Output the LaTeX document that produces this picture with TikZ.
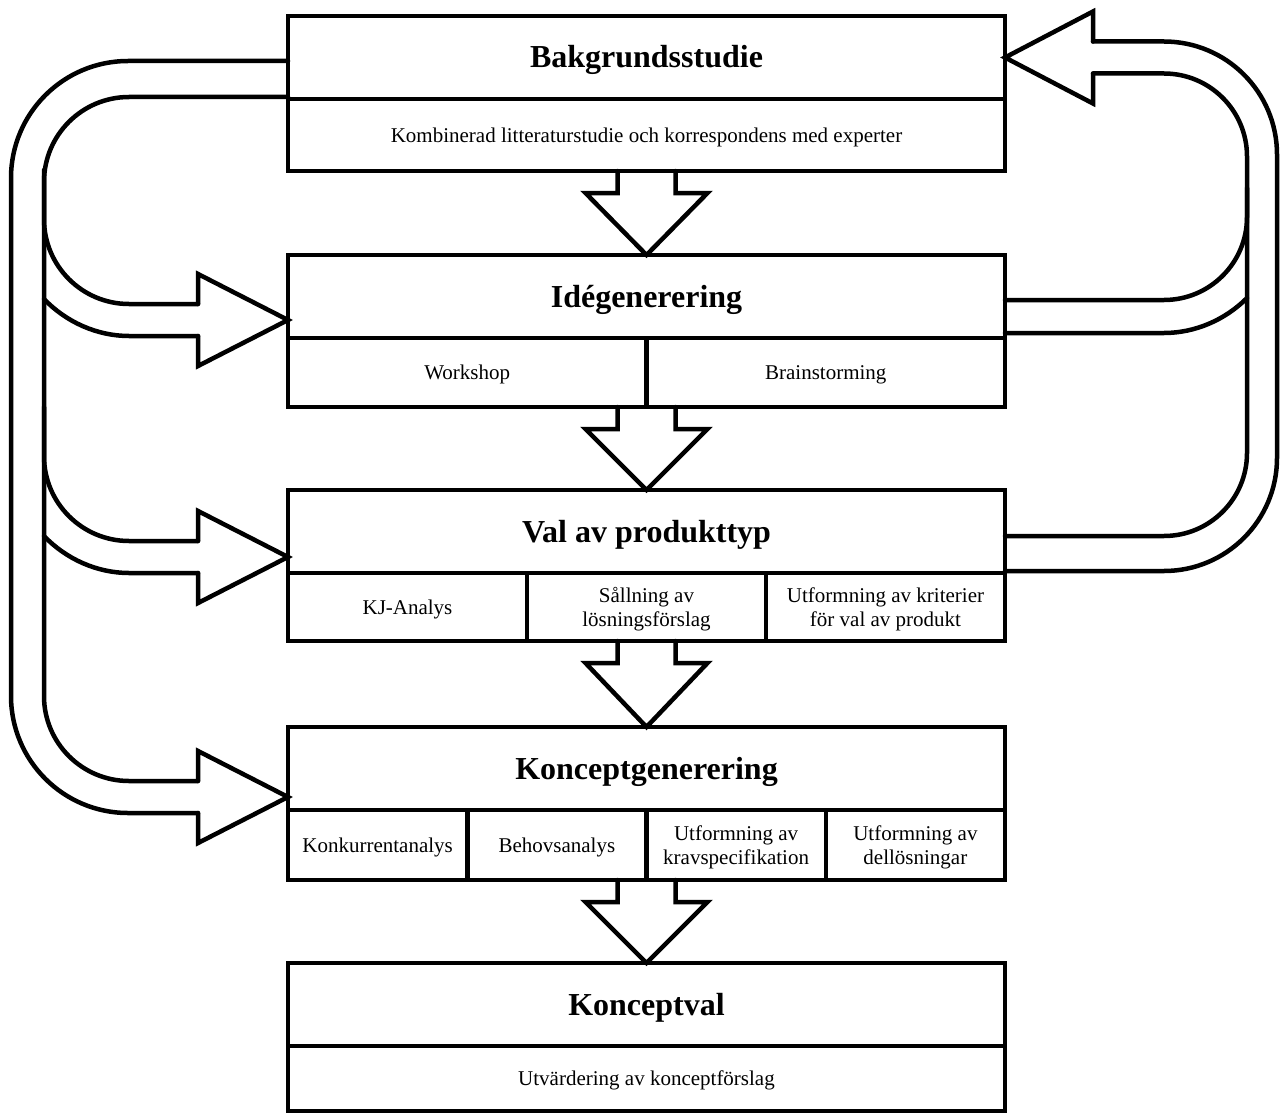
\documentclass[tikz,border=0pt]{standalone}
\usepackage{fontspec}
\setmainfont{Liberation Serif}
\usetikzlibrary{positioning,calc}

\begin{document}
\begin{tikzpicture}[x=1pt,y=-1pt,line width=4.5pt,line cap=round,
    stage/.style={draw,outer sep=0pt,minimum width=717pt,minimum height=83pt,text height=22pt,text depth=1pt,font=\fontsize{32}{38}\selectfont\bfseries},
    task/.style={draw,outer sep=0pt,minimum height=70pt,align=center,text depth=0pt,font=\fontsize{21}{24}\selectfont}]
        \useasboundingbox (0,0) rectangle (1282,1113);
        \node[stage] (bakgrund) at (646.5,57.5) {Bakgrundsstudie};
        \node[task,minimum width=717pt,minimum height=72pt,below=0pt of bakgrund] (bakgrund-sub) {Kombinerad litteraturstudie och korrespondens med experter};
        \node[stage,below=156pt of bakgrund] (ide) {Idégenerering};
        \node[task,minimum width=358.5pt,minimum height=69pt,anchor=north west] (ide-a) at (ide.south west) {Workshop};
        \node[task,minimum width=358.5pt,minimum height=69pt,right=0pt of ide-a] (ide-b) {Brainstorming};
        \node[stage,below=152pt of ide] (val) {Val av produkttyp};
        \node[task,minimum width=239pt,minimum height=68pt,anchor=north west] (val-a) at (val.south west) {KJ-Analys};
        \node[task,minimum width=239pt,minimum height=68pt,right=0pt of val-a] (val-b) {Sållning av\\lösningsförslag};
        \node[task,minimum width=239pt,minimum height=68pt,right=0pt of val-b] (val-c) {Utformning av kriterier\\för val av produkt};
        \node[stage,below=154pt of val] (koncept) {Konceptgenerering};
        \node[task,minimum width=179.25pt,anchor=north west] (koncept-a) at (koncept.south west) {Konkurrentanalys};
        \node[task,minimum width=179.25pt,right=0pt of koncept-a] (koncept-b) {Behovsanalys};
        \node[task,minimum width=179.25pt,right=0pt of koncept-b] (koncept-c) {Utformning av\\kravspecifikation};
        \node[task,minimum width=179.25pt,right=0pt of koncept-c] (koncept-d) {Utformning av\\dellösningar};
        \node[stage,below=153pt of koncept] (konceptval) {Konceptval};
        \node[task,minimum width=717pt,minimum height=65pt,below=0pt of konceptval] (konceptval-sub) {Utvärdering av konceptförslag};

        \foreach \a/\s/\b in {bakgrund/bakgrund-sub/ide,ide/ide-b/val,val/val-b/koncept,koncept/koncept-b/konceptval}
          \draw ($(\a.south |- \s.south)+(-29,0)$) -- ++(0,22) -- ++(-32,0) -- (\b.north) -- ($(\a.south |- \s.south)+(61,22)$) -- ++(-32,0) -- ++(0,-22);

        \coordinate (lout) at (11,0);
        \coordinate (lin) at (44,0);
        \coordinate (rin) at (1247,0);
        \coordinate (rout) at (1277,0);
        \coordinate (ide-in) at ($(ide.south west)+(0,-18)$);
        \coordinate (val-in) at ($(val.south west)+(0,-16)$);
        \coordinate (koncept-in) at ($(koncept.south west)+(0,-13)$);

        \draw[rounded corners=117pt] ($(bakgrund.south west)+(0,-38)$) -| ($(lout |- koncept-in)+(0,16)$) -- ($(koncept-in)+(-90,16)$);
        \draw[rounded corners=85pt] ($(bakgrund.south west)+(0,-2)$) -| ($(lin |- koncept-in)+(0,-16)$) -- ($(koncept-in)+(-90,-16)$);
        \draw ($(koncept-in)+(-90,-16)$) -- ++(0,-30) -- (koncept-in) -- ++(-90,46) -- ++(0,-30);
        \foreach \t in {ide,val} {
          \draw[rounded corners=85pt] ($(lin |- \t-in)+(0,-150)$) -- ($(lin |- \t-in)+(0,-16)$) -- ($(\t-in)+(-90,-16)$);
          \draw ($(\t-in)+(-90,-16)$) -- ++(0,-30) -- (\t-in) -- ++(-90,46) -- ++(0,-30);
          \draw ($(\t-in)+(-90,16)$) -- ($(lin |- \t-in)+(85,16)$) .. controls +(-32,0) and +(22,23) .. ($(lin |- \t-in)+(0,-21)$);
        }

        \draw[rounded corners=113pt] ($(bakgrund.east)+(88,-16)$) -| ($(rout |- val.south east)+(0,-2)$) -- ($(val.south east)+(0,-2)$);
        \draw[rounded corners=83pt] ($(bakgrund.east)+(88,16)$) -| ($(rin |- val.south east)+(0,-37)$) -- ($(val.south east)+(0,-37)$);
        \draw ($(bakgrund.east)+(88,-16)$) -- ++(0,-30) -- (bakgrund.east) -- ++(88,46) -- ++(0,-30);
        \draw[rounded corners=83pt] ($(ide.south east)+(0,-38)$) -| ($(rin |- ide.south east)+(0,-150)$);
        \draw ($(ide.south east)+(0,-5)$) -- ($(rin |- ide.south east)+(-83,-5)$) .. controls +(31,0) and +(-22,22) .. ($(rin |- ide.south east)+(0,-40)$);
      \end{tikzpicture}
\end{document}
